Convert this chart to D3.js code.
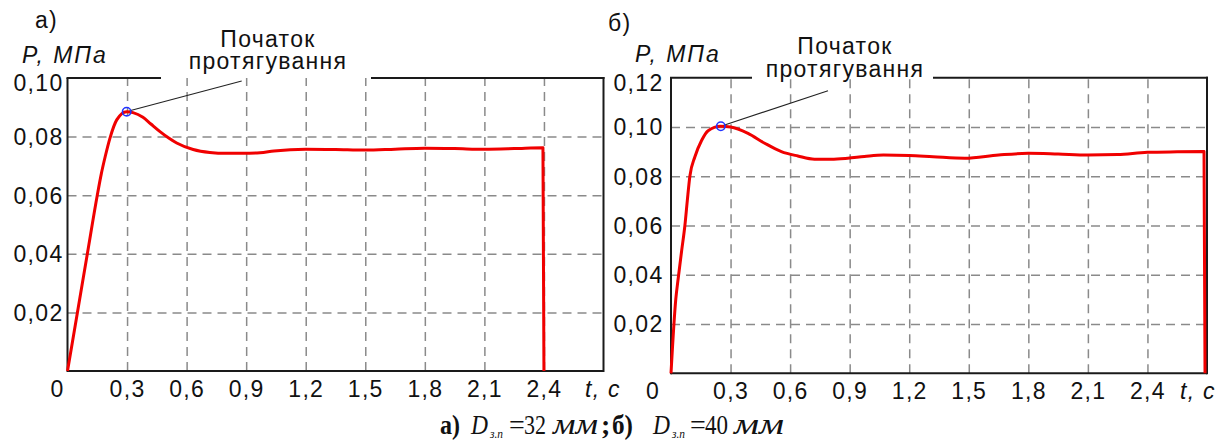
<!DOCTYPE html>
<html><head><meta charset="utf-8">
<script src="https://cdn.jsdelivr.net/npm/d3@7"></script>
<style>
body{margin:0;background:#fff}
svg{font-family:"Liberation Sans",Arial,sans-serif}
</style>
</head><body>
<svg id="c" width="1217" height="443"></svg>
<script>
// ---------- data ----------
const tTicks = [0.3, 0.6, 0.9, 1.2, 1.5, 1.8, 2.1, 2.4];
const tTickLabels = ["0,3", "0,6", "0,9", "1,2", "1,5", "1,8", "2,1", "2,4"];
const pTicksA = [0.02, 0.04, 0.06, 0.08, 0.10];
const pTickLabelsA = ["0,02", "0,04", "0,06", "0,08", "0,10"];
const pTicksB = [0.02, 0.04, 0.06, 0.08, 0.10, 0.12];
const pTickLabelsB = ["0,02", "0,04", "0,06", "0,08", "0,10", "0,12"];

const tA = [0, 0.05, 0.10, 0.15, 0.17, 0.19, 0.214, 0.248, 0.298, 0.33, 0.38, 0.42, 0.466, 0.51, 0.55, 0.633, 0.717, 0.80, 0.885, 0.97, 1.04, 1.2, 1.35, 1.5, 1.65, 1.8, 1.95, 2.1, 2.25, 2.395, 2.40];
const pA = [0, 0.02, 0.04, 0.060, 0.0672, 0.0732, 0.0795, 0.0857, 0.0885, 0.0882, 0.0866, 0.0843, 0.0817, 0.0795, 0.0778, 0.0756, 0.0746, 0.0743, 0.0743, 0.0745, 0.0751, 0.0757, 0.0756, 0.0754, 0.0757, 0.0760, 0.0759, 0.0757, 0.0759, 0.0762, 0];

const tB = [0, 0.024, 0.037, 0.054, 0.070, 0.082, 0.095, 0.12, 0.154, 0.187, 0.25, 0.30, 0.388, 0.472, 0.556, 0.639, 0.723, 0.807, 0.89, 0.974, 1.07, 1.2, 1.32, 1.48, 1.65, 1.8, 1.95, 2.1, 2.25, 2.4, 2.55, 2.685, 2.69];
const pB = [0, 0.030, 0.039, 0.050, 0.060, 0.070, 0.080, 0.0878, 0.0945, 0.0985, 0.1003, 0.1000, 0.0974, 0.0934, 0.0900, 0.0882, 0.0869, 0.0869, 0.0873, 0.0880, 0.0886, 0.0884, 0.0879, 0.0873, 0.0886, 0.0893, 0.0890, 0.0886, 0.0888, 0.0897, 0.0899, 0.0900, 0];

const startA = {t: 0.298, p: 0.0885};
const startB = {t: 0.251, p: 0.1003};

const panelTitles = ["а)", "б)"];
const yAxisTitle = "P, МПа";
const xAxisTitle = "t, с";
const annotationLines = ["Початок", "протягування"];

// ---------- drawing ----------
const svg = d3.select("#c");
const FS = 23, LS = "1.3px";

function panel(o) {
  const g = svg.append("g");
  const x = d3.scaleLinear().domain([0, 2.7]).range([o.x0, o.x1]);
  const y = d3.scaleLinear().domain([0, o.pMax]).range([o.y0, o.y1]);
  const H = o.y0 - o.y1, W = o.x1 - o.x0;

  // vertical grid
  const vg = g.append("g").attr("transform", `translate(0,${o.y0})`)
    .call(d3.axisBottom(x).tickValues(tTicks).tickSize(-H).tickFormat(""));
  vg.select(".domain").remove();
  vg.selectAll("line").attr("stroke", "#8a8a8a").attr("stroke-width", 1.5).attr("stroke-dasharray", "9,6");

  // horizontal grid
  const hg = g.append("g").attr("transform", `translate(${o.x0},0)`)
    .call(d3.axisRight(y).tickValues(o.pTicks.filter(v => v < o.pMax - 1e-9)).tickSize(W).tickFormat(""));
  hg.select(".domain").remove();
  hg.selectAll("line").attr("stroke", "#8a8a8a").attr("stroke-width", 1.5).attr("stroke-dasharray", "9,6");

  // frame
  const fr = g.append("g").attr("stroke", "#1a1a1a").attr("stroke-width", 2).attr("fill", "none");
  fr.append("line").attr("x1", o.x0).attr("x2", o.x0).attr("y1", o.y0 + 1).attr("y2", o.y1);
  fr.append("line").attr("x1", o.x0).attr("x2", o.x1).attr("y1", o.y0).attr("y2", o.y0);
  fr.append("line").attr("x1", o.x1).attr("x2", o.x1).attr("y1", o.y0 + 1).attr("y2", o.y1 - 1);
  fr.append("line").attr("x1", o.x0 - 1).attr("x2", o.gap[0]).attr("y1", o.y1).attr("y2", o.y1);
  fr.append("line").attr("x1", o.gap[1]).attr("x2", o.x1 + 1).attr("y1", o.y1).attr("y2", o.y1);

  // y tick labels
  const ya = g.append("g").attr("transform", `translate(${o.yLabelX},0)`)
    .call(d3.axisLeft(y).tickValues(o.pTicks).tickSize(0).tickPadding(0)
      .tickFormat((d, i) => o.pLabels[i]));
  ya.attr("font-family", null).attr("font-size", FS);
  ya.select(".domain").remove();
  ya.selectAll("text").attr("letter-spacing", LS).attr("fill", "#111")
    .attr("dy", d => d >= o.pMax - 1e-9 ? "0.55em" : "0.34em");

  // x tick labels
  const xa = g.append("g").attr("transform", `translate(0,${o.y0})`)
    .call(d3.axisBottom(x).tickValues(tTicks).tickSize(0).tickPadding(0)
      .tickFormat((d, i) => tTickLabels[i]));
  xa.attr("font-family", null).attr("font-size", FS);
  xa.select(".domain").remove();
  xa.selectAll("text").attr("letter-spacing", LS).attr("fill", "#111")
    .attr("dy", null).attr("y", 25.5);
  g.append("text").attr("x", o.zeroX).attr("y", o.y0 + 25.5).attr("text-anchor", "middle")
    .attr("font-size", FS).attr("letter-spacing", LS).attr("fill", "#111").text("0");

  // axis titles
  g.append("text").attr("x", o.tTitle[0]).attr("y", o.tTitle[1]).attr("font-size", FS).attr("fill", "#111")
    .attr("font-style", "italic").attr("letter-spacing", LS).text(xAxisTitle);
  g.append("text").attr("x", o.pTitle[0]).attr("y", o.pTitle[1]).attr("font-size", FS).attr("fill", "#111")
    .attr("font-style", "italic").attr("letter-spacing", "2px").text(yAxisTitle);
  g.append("text").attr("x", o.title[0]).attr("y", o.title[1]).attr("font-size", FS).attr("fill", "#111")
    .attr("letter-spacing", LS).text(o.titleText);

  // curve
  const pts = o.t.map((t, i) => [t, o.p[i]]);
  g.append("path").datum(pts)
    .attr("d", d3.line().x(d => x(d[0])).y(d => y(d[1])).curve(d3.curveMonotoneX))
    .attr("fill", "none").attr("stroke", "#f00000").attr("stroke-width", 3).attr("stroke-linejoin", "round");

  // annotation
  const cx = x(o.start.t), cy = y(o.start.p);
  g.append("line").attr("x1", cx + 3).attr("y1", cy - 1).attr("x2", o.leaderEnd[0]).attr("y2", o.leaderEnd[1])
    .attr("stroke", "#222").attr("stroke-width", 1.1);
  g.append("circle").attr("cx", cx).attr("cy", cy).attr("r", 4.2)
    .attr("fill", "none").attr("stroke", "#2233ff").attr("stroke-width", 1.6);
  annotationLines.forEach((s, i) => {
    g.append("text").attr("x", o.ann[0]).attr("y", o.ann[1] + i * o.annStep).attr("fill", "#111")
      .attr("text-anchor", "middle").attr("font-size", FS).attr("letter-spacing", LS).text(s);
  });
}

panel({
  x0: 67.5, x1: 603.5, y0: 371, y1: 78, pMax: 0.10,
  pTicks: pTicksA, pLabels: pTickLabelsA, t: tA, p: pA, start: startA,
  yLabelX: 63.5, zeroX: 57.5, gap: [161, 371],
  tTitle: [585, 396.5], pTitle: [22, 63], title: [35, 28], titleText: panelTitles[0],
  ann: [268, 47], annStep: 22, leaderEnd: [241.7, 81]
});
panel({
  x0: 671, x1: 1207, y0: 373.3, y1: 77.7, pMax: 0.12,
  pTicks: pTicksB, pLabels: pTickLabelsB, t: tB, p: pB, start: startB,
  yLabelX: 663.5, zeroX: 653, gap: [752, 933],
  tTitle: [1180, 399], pTitle: [635, 62], title: [608, 31], titleText: panelTitles[1],
  ann: [845, 54], annStep: 23, leaderEnd: [828, 90.7]
});

// ---------- caption ----------
const SERIF = "'Liberation Serif','Times New Roman',serif";
const cap = svg.append("g");
const capY = 434, CFS = 28;
const parts = [
  {s: "а)", x: 440, len: 20, w: "bold"},
  {s: "D", x: 471, len: 17, it: true},
  {s: "з.п", x: 490, len: 13, it: true, sub: true},
  {s: "=", x: 509},
  {s: "32", x: 524, len: 22},
  {s: "мм", x: 553, len: 45, it: true, fs: 30},
  {s: ";", x: 601, w: "bold"},
  {s: "б)", x: 612, len: 21, w: "bold"},
  {s: "D", x: 653, len: 17, it: true},
  {s: "з.п", x: 672, len: 13, it: true, sub: true},
  {s: "=", x: 690},
  {s: "40", x: 705, len: 23},
  {s: "мм", x: 734, len: 50, it: true, fs: 30}
];
parts.forEach(p => {
  const t = cap.append("text").attr("x", p.x).attr("y", p.sub ? capY + 4 : capY)
    .attr("font-family", SERIF)
    .attr("font-size", p.sub ? 13 : (p.fs || CFS))
    .attr("font-weight", p.w || "normal")
    .attr("font-style", p.it ? "italic" : "normal")
    .attr("fill", "#111")
    .text(p.s);
  if (p.len) t.attr("textLength", p.len).attr("lengthAdjust", "spacingAndGlyphs");
});
</script>
</body></html>
